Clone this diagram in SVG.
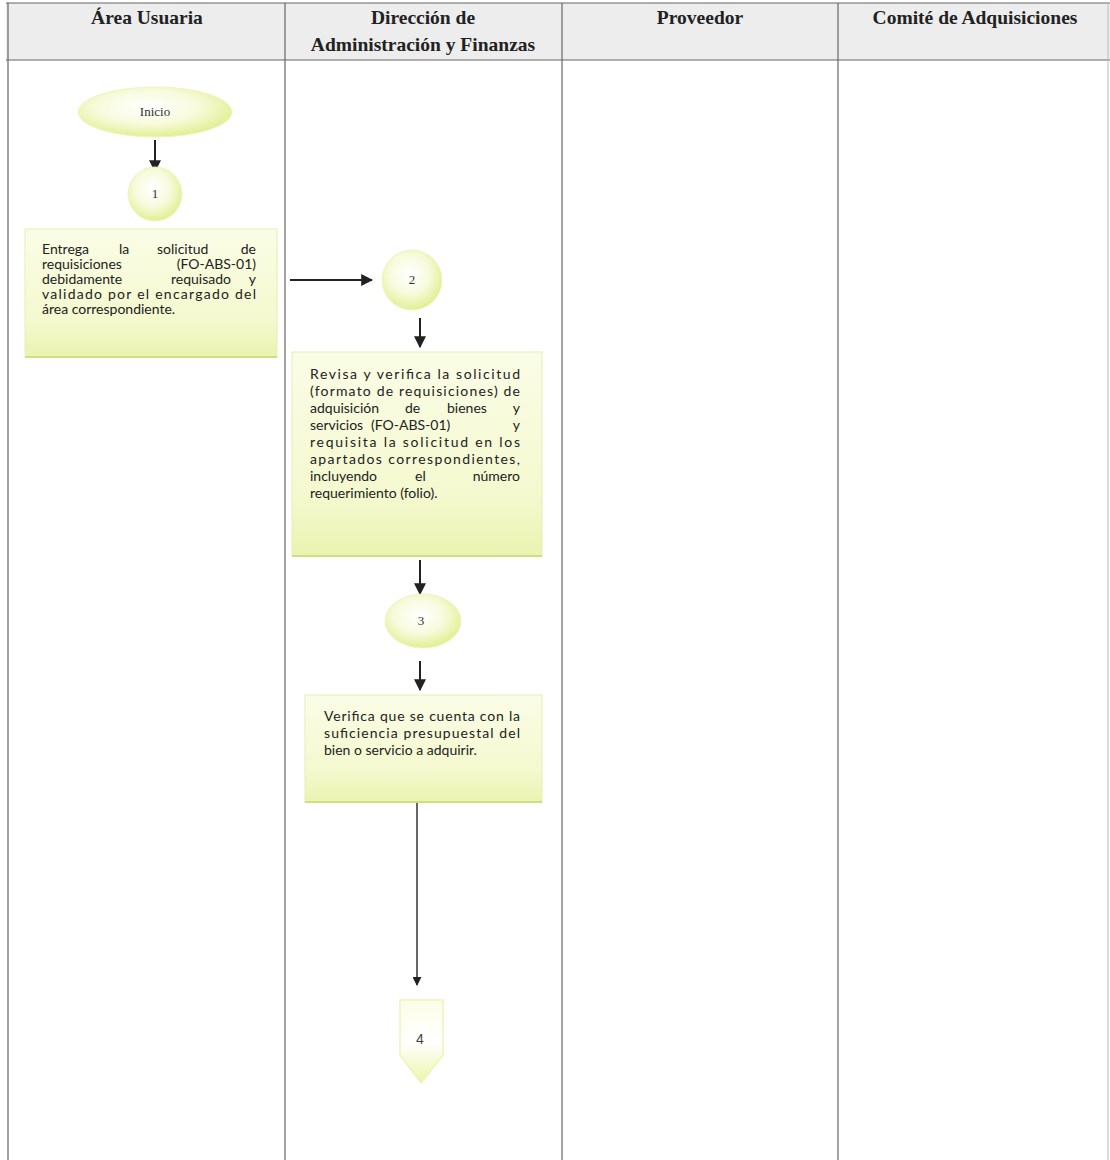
<svg xmlns="http://www.w3.org/2000/svg" width="1110" height="1160" viewBox="0 0 1110 1160">
<defs>
<radialGradient id="gCirc" cx="0.45" cy="0.4" r="0.6">
<stop offset="0" stop-color="#ffffff"/>
<stop offset="0.55" stop-color="#f7fbdc"/>
<stop offset="1" stop-color="#e2ef93"/>
</radialGradient>
<linearGradient id="gBox" x1="0" y1="0" x2="0" y2="1">
<stop offset="0" stop-color="#fafde6"/>
<stop offset="0.7" stop-color="#f4f9cf"/>
<stop offset="1" stop-color="#eaf3b0"/>
</linearGradient>
<linearGradient id="gOff" x1="0" y1="0" x2="0" y2="1">
<stop offset="0" stop-color="#fcfde8"/>
<stop offset="0.5" stop-color="#ffffff"/>
<stop offset="1" stop-color="#edf5a8"/>
</linearGradient>
<marker id="ah" viewBox="0 0 10 10" refX="9" refY="5" markerWidth="6" markerHeight="6" orient="auto" markerUnits="strokeWidth">
<path d="M0,0 L10,5 L0,10 z" fill="#222"/>
</marker>
<style>
.grid{stroke:#666;stroke-width:1.2;fill:none}
.hdr{font-family:"Liberation Serif",serif;font-weight:bold;font-size:19.5px;fill:#222;text-anchor:middle}
.circ{fill:url(#gCirc);stroke:#eef5c4;stroke-width:1}
.box{fill:url(#gBox);stroke:#e6efb4;stroke-width:1}
.btm{stroke:#cfdf80;stroke-width:2}
.t{font-family:Lato,"Open Sans",sans-serif;font-size:14px;fill:#222}
.s{font-family:"Liberation Serif",serif;font-size:13px;fill:#333;text-anchor:middle}
.c{stroke:#222;stroke-width:2;fill:none}
</style>
</defs>
<rect x="6" y="3" width="1104" height="57" fill="#ededed"/>
<g id="table">
<line class="grid" x1="6" y1="3" x2="1110" y2="3"/>
<line class="grid" x1="6" y1="60" x2="1110" y2="60"/>
<line class="grid" x1="8" y1="3" x2="8" y2="1160"/>
<line class="grid" x1="285" y1="3" x2="285" y2="1160"/>
<line class="grid" x1="562" y1="3" x2="562" y2="1160"/>
<line class="grid" x1="838" y1="3" x2="838" y2="1160"/>
<line x1="1108" y1="3" x2="1108" y2="1160" stroke="#bbb" stroke-width="1"/>
<text class="hdr" x="147" y="24">Área Usuaria</text>
<text class="hdr" x="423" y="24">Dirección de</text>
<text class="hdr" x="423" y="51">Administración y Finanzas</text>
<text class="hdr" x="700" y="24">Proveedor</text>
<text class="hdr" x="975" y="24">Comité de Adquisiciones</text>
</g>
<g id="connectors">
<line class="c" x1="155" y1="140" x2="155" y2="171" marker-end="url(#ah)"/>
<line class="c" x1="290" y1="280" x2="372" y2="280" marker-end="url(#ah)"/>
<line class="c" x1="420" y1="318" x2="420" y2="347" marker-end="url(#ah)"/>
<line class="c" x1="420" y1="560" x2="420" y2="594" marker-end="url(#ah)"/>
<line class="c" x1="420" y1="661" x2="420" y2="690" marker-end="url(#ah)"/>
<line x1="417" y1="802" x2="417" y2="985" stroke="#333" stroke-width="1.5" marker-end="url(#ah)"/>
</g>
<g id="inicio">
<ellipse class="circ" cx="155" cy="112" rx="77" ry="25"/>
<text class="s" x="155" y="116">Inicio</text>
</g>
<g id="n1">
<circle class="circ" cx="155" cy="194" r="27"/>
<text class="s" x="155" y="198">1</text>
</g>
<g id="box1">
<rect class="box" x="25" y="229" width="252" height="128"/>
<line class="btm" x1="25" y1="357" x2="277" y2="357"/>
<text class="t" y="254"><tspan x="42">Entrega</tspan><tspan x="119">la</tspan><tspan x="157">solicitud</tspan><tspan x="256" text-anchor="end">de</tspan></text>
<text class="t" y="269"><tspan x="42">requisiciones</tspan><tspan x="256" text-anchor="end">(FO-ABS-01)</tspan></text>
<text class="t" y="284"><tspan x="42">debidamente</tspan><tspan x="171">requisado</tspan><tspan x="256" text-anchor="end">y</tspan></text>
<text class="t" x="42" y="299" textLength="214" lengthAdjust="spacing">validado por el encargado del</text>
<text class="t" x="42" y="314">área correspondiente.</text>
</g>
<g id="n2">
<circle class="circ" cx="412" cy="280" r="30"/>
<text class="s" x="412" y="284">2</text>
</g>
<g id="box2">
<rect class="box" x="292" y="352" width="250" height="204"/>
<line class="btm" x1="292" y1="556" x2="542" y2="556"/>
<text class="t" x="310" y="379" textLength="210" lengthAdjust="spacing">Revisa y verifica la solicitud</text>
<text class="t" x="310" y="396" textLength="210" lengthAdjust="spacing">(formato de requisiciones) de</text>
<text class="t" y="413"><tspan x="310">adquisición</tspan><tspan x="405">de</tspan><tspan x="447">bienes</tspan><tspan x="520" text-anchor="end">y</tspan></text>
<text class="t" y="430"><tspan x="310">servicios</tspan><tspan x="371">(FO-ABS-01)</tspan><tspan x="520" text-anchor="end">y</tspan></text>
<text class="t" x="310" y="447" textLength="210" lengthAdjust="spacing">requisita la solicitud en los</text>
<text class="t" x="310" y="464" textLength="210" lengthAdjust="spacing">apartados correspondientes,</text>
<text class="t" y="481"><tspan x="310">incluyendo</tspan><tspan x="415">el</tspan><tspan x="520" text-anchor="end">número</tspan></text>
<text class="t" x="310" y="498">requerimiento (folio).</text>
</g>
<g id="n3">
<ellipse class="circ" cx="423" cy="621" rx="38" ry="27"/>
<text class="s" x="421" y="625">3</text>
</g>
<g id="box3">
<rect class="box" x="305" y="695" width="237" height="107"/>
<line class="btm" x1="305" y1="802" x2="542" y2="802"/>
<text class="t" x="324" y="721" textLength="196" lengthAdjust="spacing">Verifica que se cuenta con la</text>
<text class="t" x="324" y="738" textLength="196" lengthAdjust="spacing">suficiencia presupuestal del</text>
<text class="t" x="324" y="755">bien o servicio a adquirir.</text>
</g>
<g id="n4">
<path d="M400,1000 L443,1000 L443,1055 L421,1083 L400,1055 Z" fill="url(#gOff)" stroke="#eef5b8" stroke-width="1.5"/>
<text x="420" y="1044" font-family="'Liberation Sans',sans-serif" font-size="14" fill="#444" text-anchor="middle">4</text>
</g>
</svg>
